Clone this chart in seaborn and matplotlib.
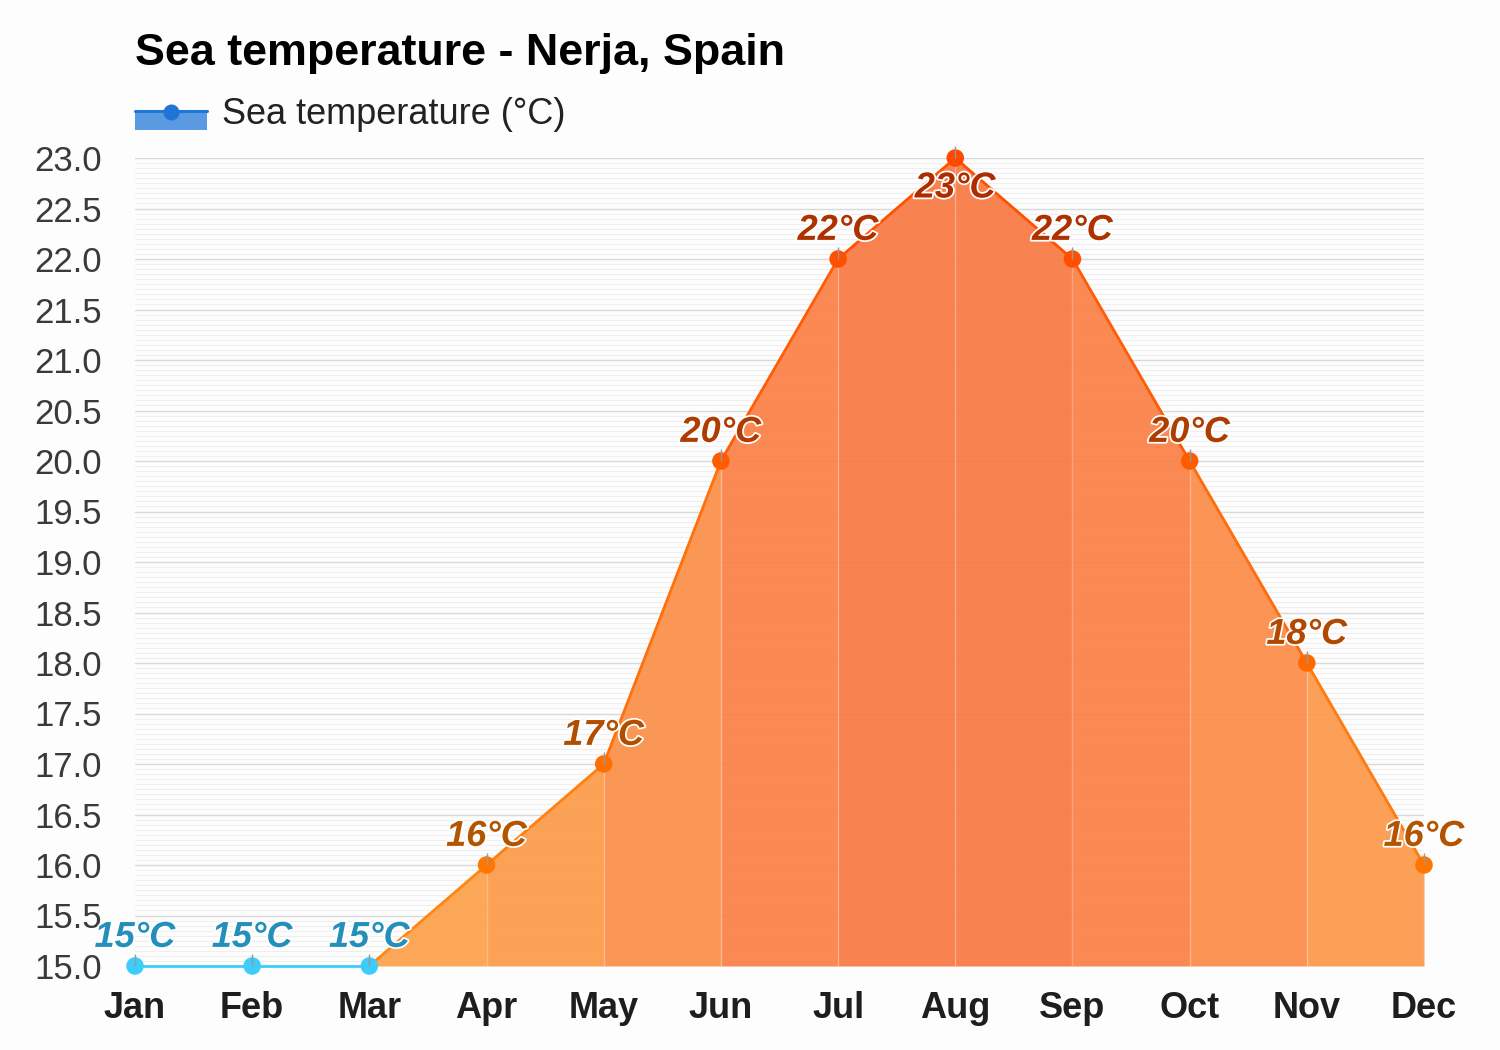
import matplotlib
matplotlib.use("Agg")
import matplotlib.pyplot as plt
import matplotlib.patheffects as pe
from matplotlib.colors import LinearSegmentedColormap, to_hex
from matplotlib.patches import Rectangle
from matplotlib.lines import Line2D
import seaborn as sns
import pandas as pd
import numpy as np

# ---- data ----
months = ["Jan", "Feb", "Mar", "Apr", "May", "Jun", "Jul", "Aug", "Sep", "Oct", "Nov", "Dec"]
sea_temp = [15, 15, 15, 16, 17, 20, 22, 23, 22, 20, 18, 16]
title = "Sea temperature - Nerja, Spain"
series_name = "Sea temperature (°C)"
y_ticks = [15.0, 15.5, 16.0, 16.5, 17.0, 17.5, 18.0, 18.5, 19.0, 19.5, 20.0, 20.5,
           21.0, 21.5, 22.0, 22.5, 23.0]

# ---- style ----
sns.set_theme(style="white")
plt.rcParams["font.family"] = ["Liberation Sans", "DejaVu Sans"]

W, H, DPI = 1500, 1050, 100
fig = plt.figure(figsize=(W / DPI, H / DPI), dpi=DPI, facecolor="#fdfdfd")
ax = fig.add_axes([135 / W, 1 - 966 / H, (1424 - 135) / W, (966 - 158) / H])
ax.set_facecolor("#fdfdfd")

df = pd.DataFrame({"month": months, "temp": sea_temp, "x": np.arange(len(months))})
ymin, ymax = y_ticks[0], y_ticks[-1]
cold_max = 15

fill_cmap = LinearSegmentedColormap.from_list("fill", ["#fda650", "#f97848"])
line_cmap = LinearSegmentedColormap.from_list("line", ["#ff8a14", "#ff4e00"])
point_cmap = LinearSegmentedColormap.from_list("pt", ["#ff7e00", "#ff4800"])
text_cmap = LinearSegmentedColormap.from_list("txt", ["#b35a00", "#ad2c00"])
cold_point = "#3ccdfa"
cold_line = "#3ccdfa"
cold_text = "#2490ba"


def norm(v):
    return (v - ymin) / (ymax - ymin)


# grid
ax.set_ylim(ymin, ymax)
ax.set_xlim(0, len(months) - 1)
ax.set_yticks(y_ticks)
ax.set_yticks(np.round(np.arange(ymin, ymax + 1e-9, 0.05), 2), minor=True)
ax.grid(axis="y", which="major", color="#d9d9d9", lw=1.0, zorder=0)
ax.grid(axis="y", which="minor", color="#efefef", lw=0.8, zorder=0)
ax.grid(axis="x", visible=False)
for s in ax.spines.values():
    s.set_visible(False)

# fill and line segments
xs = df["x"].to_numpy()
ys = df["temp"].to_numpy()
for i in range(len(xs) - 1):
    seg_x = xs[i:i + 2]
    seg_y = ys[i:i + 2]
    mean = seg_y.mean()
    cold = seg_y.max() <= cold_max
    if not cold:
        ax.fill_between(seg_x, ymin, seg_y, color=fill_cmap(norm(mean)), alpha=0.95,
                        lw=0, zorder=1)
    ax.plot(seg_x, seg_y, color=cold_line if cold else line_cmap(norm(mean)),
            lw=2, zorder=3, solid_capstyle="butt", clip_on=False)

# faint vertical separators inside fill
ax.vlines(xs, ymin, ys, color="white", alpha=0.25, lw=1, zorder=2)

# small tick above each point
tick_marker = [(0, 0), (0, 1)]
ax.plot(xs, ys, ls="none", marker=tick_marker, markersize=17, markeredgewidth=1,
        markeredgecolor="#999999", zorder=5, clip_on=False)

# points
pt_colors = {m: (cold_point if t <= cold_max else to_hex(point_cmap(norm(t))))
             for m, t in zip(months, sea_temp)}
sns.scatterplot(data=df, x="x", y="temp", hue="month", palette=pt_colors, s=160,
                edgecolor="none", legend=False, ax=ax, zorder=4, clip_on=False)

# value labels
imax = int(np.argmax(ys))
for i, (x, t) in enumerate(zip(xs, ys)):
    col = cold_text if t <= cold_max else text_cmap(norm(t))
    below = (i == imax)
    ax.annotate(f"{t}°C", (x, t), xytext=(0, -9 if below else 8), textcoords="offset points",
                ha="center", va="top" if below else "bottom", fontsize=26,
                fontweight="bold", fontstyle="italic", color=col, zorder=6,
                annotation_clip=False,
                path_effects=[pe.withStroke(linewidth=2.5, foreground="white")])

# ticks
ax.set_xticks(xs)
ax.set_xticklabels(months, fontsize=26, fontweight="bold", color="#1e1e1e")
ax.set_yticklabels([f"{v:.1f}" for v in y_ticks], fontsize=25, color="#3a3a3a")
ax.tick_params(axis="x", length=0, pad=18)
ax.tick_params(axis="y", which="both", length=0, pad=24)
ax.set_xlabel("")
ax.set_ylabel("")

# title
fig.text(135 / W, 1 - 65 / H, title, fontsize=32.3, fontweight="bold", color="black",
         ha="left", va="baseline")

# legend (manual)
fig.patches.append(Rectangle((135 / W, 1 - 130 / H), 72 / W, 20 / H, transform=fig.transFigure,
                             facecolor="#5a9ae0", edgecolor="none"))
fig.lines.append(Line2D([135 / W, 207 / W], [1 - 111 / H, 1 - 111 / H], transform=fig.transFigure,
                        color="#1f78d8", lw=2.2))
fig.lines.append(Line2D([171 / W], [1 - 112 / H], transform=fig.transFigure, marker="o",
                        markersize=10.5, color="#1f74d4", ls="none"))
fig.text(222 / W, 1 - 124 / H, series_name, fontsize=26, color="#222222",
         ha="left", va="baseline")

fig.savefig("out.png", dpi=DPI, facecolor=fig.get_facecolor())
